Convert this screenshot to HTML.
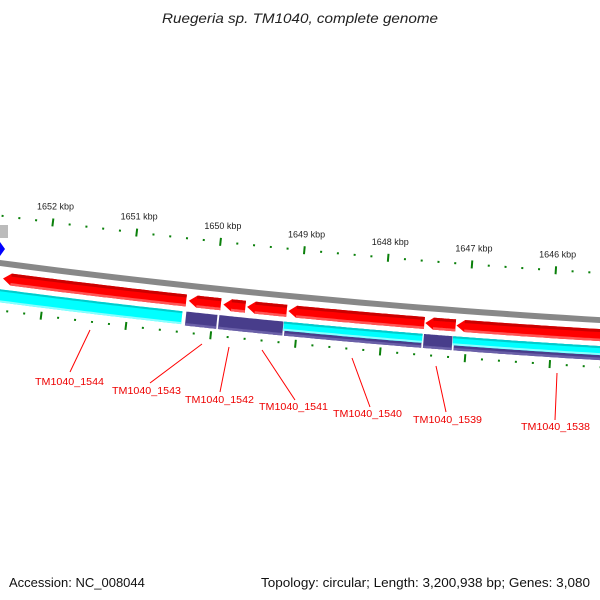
<!DOCTYPE html>
<html><head><meta charset="utf-8"><style>
body{margin:0;background:#fff;}
svg{display:block;font-family:"Liberation Sans","DejaVu Sans",sans-serif;}
</style></head><body>
<svg id="chart" width="600" height="600" viewBox="0 0 600 600">
<text x="300" y="23" text-anchor="middle" font-size="14" font-style="italic" fill="#222" textLength="276" lengthAdjust="spacingAndGlyphs">Ruegeria sp. TM1040, complete genome</text>
<text x="9" y="587" font-size="13" fill="#111">Accession: NC_008044</text>
<text x="261" y="587" font-size="13" fill="#111" textLength="329" lengthAdjust="spacingAndGlyphs">Topology: circular; Length: 3,200,938 bp; Genes: 3,080</text>
<rect x="0" y="225" width="8" height="13" fill="#bbb"/>
<polygon points="0,242 5,249 0,256" fill="#00f"/>
</svg>
<script>
// data
const kbpTicks = [1652,1651,1650,1649,1648,1647,1646];
const redGenes = [[1652.57,1650.40],[1650.37,1649.99],[1649.96,1649.70],[1649.68,1649.21],[1649.19,1647.58],[1647.57,1647.21],[1647.20,1645.40]];
const cyanGenes = [[1652.70,1650.43],[1649.23,1647.59],[1647.23,1645.40]];
const cyanFull = [true,false,false];
const purpleGenes = [[1650.39,1650.01],[1650.00,1649.23],[1649.22,1647.59],[1647.58,1647.23],[1647.22,1645.40]];
const geneLabels = ["TM1040_1544","TM1040_1543","TM1040_1542","TM1040_1541","TM1040_1540","TM1040_1539","TM1040_1538"];

const svg=document.getElementById('chart');
const NS='http://www.w3.org/2000/svg';
function f(x){return 263+0.1317*x-0.000061*x*x;}
function sl(x){return 0.1317-0.000122*x;}
function kx(k){return 47+(1652-k)*84.3;}
function gx(k){return kx(k)+6;}
function pt(x0,d){const s=sl(x0),n=Math.sqrt(1+s*s);return [x0-d*s/n,f(x0)+d/n];}
function mk(tag,attrs){const e=document.createElementNS(NS,tag);for(const k in attrs)e.setAttribute(k,attrs[k]);svg.appendChild(e);return e;}
function band(x1,x2,d1,d2,arrow){
  const pts=[];const N=30;
  const ah=arrow?8:0;
  for(let i=0;i<=N;i++){pts.push(pt(x1+ah+(x2-x1-ah)*i/N,d1));}
  for(let i=N;i>=0;i--){pts.push(pt(x1+ah+(x2-x1-ah)*i/N,d2));}
  if(arrow){pts.push(pt(x1,(d1+d2)/2));}
  return pts.map(p=>p[0].toFixed(1)+','+p[1].toFixed(1)).join(' ');
}
// backbone
let p=mk('polygon',{points:band(-5,605,-3,3),fill:'#888'});


// ticks
for(let i=0;i<kbpTicks.length;i++){
  const k=kbpTicks[i];
  const start=i===0?-3:0;
  for(let j=start;j<5;j++){
    const x0=kx(k-j*0.2);
    const major=j===0;
    [-47,47].forEach(d=>{
      const a=pt(x0,d-(major?4:1)),b=pt(x0,d+(major?4:1));
      const t=mk('line',{x1:a[0],y1:a[1],x2:b[0],y2:b[1],stroke:'#0a800a','stroke-width':2});
      
      
    });
  }
  const lp=pt(kx(k),-60);
  const tx=mk('text',{x:lp[0]+1,y:lp[1],'font-size':9,'text-anchor':'middle',fill:'#222'});
  tx.textContent=k+' kbp';
  
  
}
// red genes
redGenes.forEach(g=>{
  const x1=gx(g[0]),x2=gx(g[1]);
  const a=mk('polygon',{points:band(x1,x2,9,21,true),fill:'#f00'});
  
  
  mk('polygon',{points:band(x1+8,x2,9,12),fill:'#c00'});
  mk('polygon',{points:band(x1+8,x2,18.5,21),fill:'#f55'});
});
// purple genes
purpleGenes.forEach(g=>{
  const x1=gx(g[0]),x2=gx(g[1]);
  const a=mk('polygon',{points:band(x1+0.5,x2-0.5,26,40),fill:'#483d8b'});
  
  
  mk('polygon',{points:band(x1+0.5,x2-0.5,37.5,40),fill:'#6a60a8'});
});
// cyan genes
cyanGenes.forEach((g,i)=>{
  const x1=gx(g[0]),x2=gx(g[1]);
  const d2=cyanFull[i]?39:35;
  const a=mk('polygon',{points:band(x1,x2,26,d2),fill:'#0ff'});
  
  
  mk('polygon',{points:band(x1,x2,26,28),fill:'#0cc'});
  mk('polygon',{points:band(x1,x2,d2-2,d2),fill:'#8ff'});
});
// labels
const lab=[[90,330,70,372,35,385],[202,344,150,383,112,394],[229,347,220,392,185,403],[262,350,295,400,259,410],[352,358,370,407,333,417],[436,366,446,412,413,423],[557,373,555,420,521,430]];
geneLabels.forEach((s,i)=>{
  const L=lab[i];
  const l=mk('line',{x1:L[0],y1:L[1],x2:L[2],y2:L[3],stroke:'#f00','stroke-width':1});
  
  
  const t=mk('text',{x:L[4],y:L[5],'font-size':10,fill:'#e00',textLength:69,lengthAdjust:'spacingAndGlyphs'});
  t.textContent=s;
  
  
});
</script>
</body></html>
